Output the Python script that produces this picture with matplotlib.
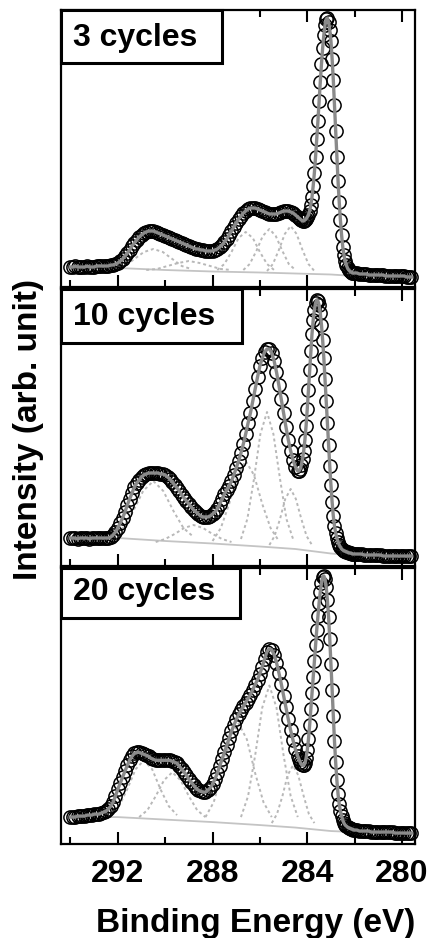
import numpy as np
import matplotlib
matplotlib.use("Agg")
import matplotlib.pyplot as plt
from matplotlib.patches import Rectangle

plt.rcParams['font.family'] = ['Liberation Sans', 'DejaVu Sans']
plt.rcParams['font.weight'] = 'bold'

# binding energy grid (eV): 0.1 eV steps, 0.05 eV steps around the C-C peak
energy = np.concatenate([np.linspace(294.0, 284.4, 97),
                         np.linspace(284.35, 282.0, 48),
                         np.linspace(281.9, 279.6, 24)])

# ---- 3 cycles ----
c3_wide = [20, 20, 21, 20, 20, 20, 20, 21, 20, 20,
           20, 21, 21, 21, 21, 21, 21, 22, 22, 23,
           24, 26, 28, 31, 34, 37, 41, 44, 47, 50,
           52, 54, 55, 56, 56, 56, 55, 54, 53, 52,
           51, 50, 49, 48, 47, 46, 45, 44, 43, 42,
           41, 40, 39, 38, 38, 37, 37, 36, 36, 36,
           36, 37, 38, 40, 42, 45, 48, 52, 56, 60,
           64, 68, 71, 74, 76, 78, 79, 79, 79, 78,
           77, 76, 75, 74, 73, 73, 73, 73, 74, 75,
           76, 76, 76, 75, 74, 72, 70]
c3_peak = [69, 68, 67, 66, 66, 67, 68, 70, 72, 76,
           82, 90, 101, 114, 130, 148, 166, 186, 205, 223,
           239, 252, 262, 268, 269, 265, 257, 246, 228, 207,
           182, 156, 130, 106, 85, 67, 52, 40, 32, 26,
           22, 19, 17, 16, 15, 14, 14, 14]
c3_tail = [14, 13, 13, 13, 13, 12, 12, 12, 12, 12, 12, 12,
           11, 11, 11, 11, 11, 11, 11, 11, 11, 10, 10, 10]

# ---- 10 cycles ----
c10_wide = [28, 28, 28, 27, 28, 28, 28, 28, 27, 28,
            28, 28, 28, 28, 28, 28, 28, 29, 31, 34,
            38, 43, 48, 54, 61, 67, 73, 79, 83, 86,
            89, 91, 92, 93, 93, 93, 93, 93, 92, 92,
            91, 89, 87, 84, 81, 78, 75, 71, 68, 65,
            62, 59, 56, 54, 52, 50, 49, 49, 49, 50,
            52, 54, 57, 62, 67, 72, 76, 80, 85, 91,
            98, 105, 113, 122, 132, 143, 153, 165, 177, 189,
            200, 208, 214, 217, 217, 213, 205, 194, 181, 167,
            153, 139, 126, 115, 106, 99, 95]
c10_peak = [95, 97, 101, 107, 115, 126, 140, 157, 176, 196,
            215, 232, 246, 256, 263, 266, 265, 261, 253, 241,
            226, 208, 187, 165, 143, 121, 100, 81, 64, 50,
            40, 33, 28, 24, 21, 19, 17, 16, 15, 15,
            14, 14, 13, 13, 13, 12, 12, 12]
c10_tail = [12, 12, 12, 11, 11, 11, 11, 11, 11, 11, 11, 10,
            10, 10, 10, 10, 10, 10, 10, 10, 10, 10, 10, 10]

# ---- 20 cycles ----
c20_wide = [27, 27, 27, 28, 28, 28, 28, 29, 29, 29,
            30, 30, 30, 31, 32, 33, 35, 38, 42, 48,
            55, 61, 67, 73, 79, 84, 88, 91, 92, 92,
            91, 90, 89, 88, 86, 85, 84, 84, 84, 84,
            84, 84, 84, 83, 82, 81, 78, 75, 72, 69,
            65, 62, 59, 56, 54, 53, 52, 52, 54, 56,
            60, 65, 71, 78, 85, 92, 99, 106, 113, 119,
            125, 130, 134, 138, 142, 146, 150, 155, 160, 165,
            171, 178, 186, 193, 196, 195, 190, 182, 172, 161,
            149, 137, 125, 114, 104, 95, 88]
c20_peak = [85, 82, 80, 79, 79, 81, 86, 94, 105, 119,
            135, 152, 168, 184, 200, 215, 229, 242, 253, 262,
            268, 269, 266, 258, 245, 228, 206, 181, 155, 128,
            103, 82, 64, 50, 40, 33, 28, 24, 21, 19,
            18, 17, 16, 16, 15, 15, 14, 14]
c20_tail = [14, 13, 13, 13, 13, 13, 12, 12, 12, 12, 12, 12,
            12, 12, 12, 12, 11, 11, 11, 11, 11, 11, 11, 11]

# Shirley-type background
bg_energy = [294.0, 292.0, 290.0, 288.0, 286.0, 284.5, 283.0, 282.0, 279.6]
bg_c3 = [20, 19, 17, 15.5, 14.5, 13.5, 12.5, 11, 10]
bg_c10 = [28, 28, 25, 22.5, 19.5, 17, 12.5, 10.5, 10]
bg_c20 = [27, 27, 24.5, 22, 19, 16.5, 13, 12, 11]

# fitted components (energy, intensity)
comp_c3 = [
    ([292.1, 291.7, 291.3, 290.9, 290.5, 290.1, 289.7, 289.3, 288.9], [18, 21, 28, 35, 38, 35, 28, 21, 18]),
    ([290.8, 290.35, 289.9, 289.45, 289.0, 288.55, 288.1, 287.65, 287.2], [17, 18, 21, 24, 26, 24, 21, 18, 17]),
    ([287.8, 287.5, 287.2, 286.9, 286.6, 286.3, 286.0, 285.7, 285.4], [17, 23, 35, 49, 55, 49, 35, 23, 17]),
    ([286.7, 286.43, 286.15, 285.88, 285.6, 285.33, 285.05, 284.78, 284.5], [17, 23, 36, 51, 58, 51, 36, 23, 17]),
    ([285.7, 285.45, 285.2, 284.95, 284.7, 284.45, 284.2, 283.95, 283.7], [16, 23, 37, 53, 61, 53, 37, 23, 16]),
]
comp_c10 = [
    ([292.2, 291.78, 291.35, 290.93, 290.5, 290.08, 289.65, 289.23, 288.8], [29, 38, 55, 75, 85, 75, 55, 38, 29]),
    ([290.4, 290.0, 289.6, 289.2, 288.8, 288.4, 288.0, 287.6, 287.2], [24, 27, 32, 38, 41, 38, 32, 27, 24]),
    ([288.0, 287.65, 287.3, 286.95, 286.6, 286.25, 285.9, 285.55, 285.2], [25, 38, 62, 91, 105, 91, 62, 38, 25]),
    ([286.8, 286.53, 286.25, 285.98, 285.7, 285.43, 285.15, 284.88, 284.6], [27, 47, 87, 132, 154, 132, 87, 47, 27]),
    ([285.6, 285.38, 285.15, 284.93, 284.7, 284.48, 284.25, 284.03, 283.8], [21, 30, 47, 67, 77, 67, 47, 30, 21]),
]
comp_c20 = [
    ([292.3, 291.95, 291.6, 291.25, 290.9, 290.55, 290.2, 289.85, 289.5], [29, 38, 55, 75, 84, 75, 55, 38, 29]),
    ([291.1, 290.75, 290.4, 290.05, 289.7, 289.35, 289.0, 288.65, 288.3], [27, 34, 48, 64, 72, 64, 48, 34, 27]),
    ([288.3, 287.95, 287.6, 287.25, 286.9, 286.55, 286.2, 285.85, 285.5], [27, 42, 71, 105, 121, 105, 71, 42, 27]),
    ([286.8, 286.5, 286.2, 285.9, 285.6, 285.3, 285.0, 284.7, 284.4], [27, 48, 89, 137, 159, 137, 89, 48, 27]),
    ([285.5, 285.28, 285.05, 284.83, 284.6, 284.38, 284.15, 283.93, 283.7], [21, 30, 48, 69, 79, 69, 48, 30, 21]),
]

labels = ['3 cycles', '10 cycles', '20 cycles']
spectra = [c3_wide + c3_peak + c3_tail,
           c10_wide + c10_peak + c10_tail,
           c20_wide + c20_peak + c20_tail]
backgrounds = [bg_c3, bg_c10, bg_c20]
components = [comp_c3, comp_c10, comp_c20]

# panel geometry in pixels (figure is 432 x 938)
W, H = 432, 938
left_px, right_px = 61, 415
panel_px = [(10, 287), (289, 566), (568, 844)]
box_size = [(0.455, 0.191), (0.511, 0.195), (0.506, 0.181)]
label_y = [0.10, 0.10, 0.087]

fig = plt.figure(figsize=(W / 100, H / 100), dpi=100)

for i in range(3):
    top, bot = panel_px[i]
    ax = fig.add_axes([left_px / W, 1 - bot / H, (right_px - left_px) / W, (bot - top) / H])
    y = np.array(spectra[i], dtype=float)
    assert len(y) == len(energy)

    ax.plot(bg_energy, backgrounds[i], color='#c4c4c4', lw=1.3, zorder=1)
    for ce, ch in components[i]:
        ax.plot(ce, ch, color='#b8b8b8', lw=1.4, ls=(0, (1.5, 1.5)), zorder=1)
    ax.plot(energy, y, 'o', mfc='none', mec='black', ms=9.5, mew=1.1, zorder=2, clip_on=False)
    ax.plot(energy, y, color='#8a8a8a', lw=2.4, zorder=3)

    ax.set_xlim(294.4, 279.45)
    ax.set_ylim(0, 277)
    ax.set_xticks([292, 288, 284, 280])
    ax.set_xticks([294, 290, 286, 282], minor=True)
    ax.set_yticks([])
    ax.tick_params(which='both', direction='in', top=True, bottom=True, width=1.5)
    ax.tick_params(which='major', length=8.5)
    ax.tick_params(which='minor', length=5)
    ax.tick_params(axis='x', labelsize=23, pad=11)
    if i < 2:
        ax.tick_params(axis='x', labelbottom=False)
    for s in ax.spines.values():
        s.set_linewidth(1.6)

    bw, bh = box_size[i]
    ax.add_patch(Rectangle((0, 1 - bh), bw, bh, transform=ax.transAxes, fc='white',
                           ec='black', lw=2.2, zorder=5, clip_on=False))
    ax.text(0.034, 1 - label_y[i], labels[i], transform=ax.transAxes, fontsize=23,
            fontweight='bold', ha='left', va='center', zorder=6)

fig.text(256 / W, 1 - 932 / H, 'Binding Energy (eV)', fontsize=24, fontweight='bold',
         ha='center', va='baseline')
fig.text(29 / W, 1 - 430 / H, 'Intensity (arb. unit)', fontsize=24, fontweight='bold',
         rotation=90, ha='center', va='center')

fig.savefig('out.png', dpi=100)
